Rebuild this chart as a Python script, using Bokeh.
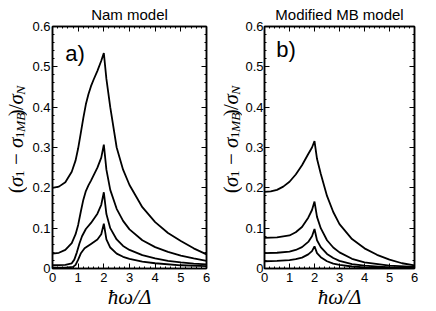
import numpy as np
from bokeh.plotting import figure
from bokeh.layouts import row
from bokeh.models import Label, LinearAxis, FixedTicker, Range1d
from bokeh.embed import file_html
from bokeh.resources import INLINE

# ---------------- data ----------------
# Panel a) Nam model
xa1 = [0, 0.25, 0.5, 0.75, 0.9, 1.0, 1.1, 1.2, 1.3, 1.4, 1.5, 1.6, 1.75, 1.9, 2.0, 2.1, 2.25, 2.5, 2.75, 3.0, 3.5, 4.0, 4.5, 5.0, 5.5, 6.0]
ya1 = [0.200, 0.203, 0.214, 0.240, 0.268, 0.298, 0.335, 0.373, 0.407, 0.432, 0.452, 0.468, 0.490, 0.515, 0.534, 0.470, 0.400, 0.300, 0.245, 0.207, 0.152, 0.115, 0.088, 0.068, 0.050, 0.035]
xa2 = [0, 0.25, 0.5, 0.75, 0.9, 1.0, 1.1, 1.2, 1.3, 1.4, 1.5, 1.75, 1.9, 2.0, 2.1, 2.25, 2.5, 2.75, 3.0, 3.5, 4.0, 4.5, 5.0, 5.5, 6.0]
ya2 = [0.037, 0.039, 0.046, 0.063, 0.085, 0.108, 0.140, 0.170, 0.192, 0.206, 0.218, 0.250, 0.275, 0.307, 0.245, 0.195, 0.148, 0.118, 0.097, 0.070, 0.053, 0.041, 0.032, 0.025, 0.019]
xa3 = [0, 0.5, 0.75, 0.85, 0.95, 1.05, 1.15, 1.3, 1.5, 1.75, 1.9, 2.0, 2.1, 2.25, 2.5, 2.75, 3.0, 3.5, 4.0, 4.5, 5.0, 5.5, 6.0]
ya3 = [0.008, 0.009, 0.013, 0.022, 0.040, 0.062, 0.080, 0.098, 0.113, 0.136, 0.158, 0.189, 0.135, 0.100, 0.072, 0.056, 0.046, 0.033, 0.025, 0.019, 0.015, 0.012, 0.010]
xa4 = [0, 0.5, 0.8, 0.9, 1.0, 1.1, 1.25, 1.5, 1.75, 1.9, 2.0, 2.1, 2.25, 2.5, 2.75, 3.0, 3.5, 4.0, 5.0, 6.0]
ya4 = [0.002, 0.002, 0.004, 0.009, 0.022, 0.037, 0.050, 0.061, 0.072, 0.085, 0.111, 0.072, 0.052, 0.037, 0.029, 0.024, 0.017, 0.013, 0.008, 0.006]

# Panel b) Modified MB model
xb1 = [0, 0.25, 0.5, 0.75, 1.0, 1.25, 1.5, 1.75, 1.9, 2.0, 2.1, 2.25, 2.5, 2.75, 3.0, 3.5, 4.0, 4.5, 5.0, 5.5, 6.0]
yb1 = [0.190, 0.191, 0.195, 0.203, 0.215, 0.233, 0.256, 0.284, 0.300, 0.316, 0.272, 0.235, 0.180, 0.140, 0.110, 0.073, 0.050, 0.034, 0.022, 0.013, 0.008]
xb = [0, 0.5, 1.0, 1.25, 1.5, 1.75, 1.9, 2.0, 2.1, 2.25, 2.5, 2.75, 3.0, 3.5, 4.0, 5.0, 6.0]
yb2 = [0.076, 0.077, 0.082, 0.090, 0.103, 0.126, 0.145, 0.166, 0.128, 0.100, 0.070, 0.052, 0.040, 0.024, 0.015, 0.007, 0.004]
yb3 = [0.038, 0.039, 0.042, 0.046, 0.053, 0.066, 0.080, 0.098, 0.070, 0.053, 0.036, 0.026, 0.019, 0.011, 0.007, 0.003, 0.002]
yb4 = [0.018, 0.019, 0.021, 0.023, 0.027, 0.035, 0.043, 0.055, 0.038, 0.028, 0.018, 0.012, 0.009, 0.005, 0.003, 0.002, 0.001]

titles = ["Nam model", "Modified MB model"]
panel_tags = ["a)", "b)"]
x_ticks = [0, 1, 2, 3, 4, 5, 6]
x_tick_labels = ["0", "1", "2", "3", "4", "5", "6"]
y_ticks = [0, 0.1, 0.2, 0.3, 0.4, 0.5, 0.6]
y_tick_labels = ["0", "0.1", "0.2", "0.3", "0.4", "0.5", "0.6"]
x_label = "ħω/Δ"
# y label pieces: text, subscript?, italic?
y_label_parts = [("(", False, False), ("σ", False, True), ("1", True, False),
                 ("−", False, False), ("σ", False, True), ("1", True, False),
                 ("MB", True, True), (")", False, False), ("/", False, False),
                 ("σ", False, True), ("N", True, True)]

# ---------------- style / layout ----------------
H = 311
TOP, BOTTOM = 25, 42
FRAME_H = H - TOP - BOTTOM
X0, X1, Y0, Y1 = 0, 6, 0, 0.6
SANS = "Liberation Sans"
SERIF = "Liberation Serif"
TICK_FS = "13px"
MAIN_FS, SUB_FS = 21, 13.5
EM = {"(": .333, ")": .333, "/": .278, "1": .5, "σ": .55, "−": .564, "MB": 1.444, "N": .667}
GAP = {"−": 9}

x_minor = [round(v, 2) for v in np.arange(0, 6.001, 0.2)]
y_minor = [round(v, 3) for v in np.arange(0, 0.6001, 0.02)]


def style_axis(ax, show_labels, standoff=3):
    ax.axis_line_color = "black"
    ax.axis_line_width = 1.5
    ax.major_tick_in = 5
    ax.major_tick_out = 0
    ax.minor_tick_in = 2
    ax.minor_tick_out = 0
    ax.major_tick_line_color = "black"
    ax.minor_tick_line_color = "black"
    if show_labels:
        ax.major_label_text_font = SANS
        ax.major_label_text_font_size = TICK_FS
        ax.major_label_text_color = "black"
        ax.major_label_standoff = standoff
    else:
        ax.major_label_text_font_size = "0px"
        ax.major_label_standoff = 0
        ax.major_label_text_alpha = 0


def make_panel(idx, series, width, border_left, border_right, ystandoff, tag_pos):
    p = figure(width=width, height=H, output_backend="svg", toolbar_location=None,
               x_range=Range1d(X0, X1), y_range=Range1d(Y0, Y1),
               min_border_left=border_left, min_border_right=border_right,
               min_border_top=TOP, min_border_bottom=BOTTOM,
               x_axis_type=None, y_axis_type=None)
    p.background_fill_color = "white"
    p.border_fill_color = "white"
    p.outline_line_color = "black"
    p.outline_line_width = 1.5
    p.xgrid.visible = False
    p.ygrid.visible = False

    p.title.text = titles[idx]
    p.title.align = "center"
    p.title.text_font = SANS
    p.title.text_font_size = "15px"
    p.title.text_font_style = "normal"
    p.title.text_color = "black"
    p.title.standoff = 7
    p.title.offset = 0

    xt = FixedTicker(ticks=x_ticks, minor_ticks=x_minor)
    yt = FixedTicker(ticks=y_ticks, minor_ticks=y_minor)
    xover = {t: l for t, l in zip(x_ticks, x_tick_labels)}
    yover = {t: l for t, l in zip(y_ticks, y_tick_labels)}

    xb_ax = LinearAxis(ticker=xt, major_label_overrides=xover)
    style_axis(xb_ax, True, 4)
    xb_ax.axis_label = x_label
    xb_ax.axis_label_text_font = SERIF
    xb_ax.axis_label_text_font_size = "21px"
    xb_ax.axis_label_text_font_style = "italic"
    xb_ax.axis_label_text_color = "black"
    xb_ax.axis_label_standoff = 0
    p.add_layout(xb_ax, "below")
    xa_ax = LinearAxis(ticker=xt, major_label_overrides=xover)
    style_axis(xa_ax, False)
    p.add_layout(xa_ax, "above")
    for loc, show in (("left", True), ("right", False)):
        ax = LinearAxis(ticker=yt, major_label_overrides=yover)
        style_axis(ax, show, ystandoff)
        p.add_layout(ax, loc)

    for xs, ys in series:
        p.line(xs, ys, line_color="black", line_width=1.8)

    p.add_layout(Label(x=tag_pos[0], y=tag_pos[1], text=panel_tags[idx],
                       text_font=SANS, text_font_size="22px", text_color="black",
                       text_baseline="alphabetic", text_align="left"))
    return p


def make_ylabel(width, main_base, sub_base):
    """Narrow strip carrying the rotated y-axis label (with subscripts)."""
    q = figure(width=width, height=H, output_backend="svg", toolbar_location=None,
               x_range=Range1d(0, width), y_range=Range1d(0, H),
               min_border=0, x_axis_type=None, y_axis_type=None)
    q.outline_line_color = None
    q.background_fill_color = "white"
    q.border_fill_color = "white"
    q.xgrid.visible = False
    q.ygrid.visible = False
    lens = []
    for t, sub, it in y_label_parts:
        fs = SUB_FS if sub else MAIN_FS
        w = EM.get(t, 0.6) * fs + (GAP.get(t, 0) if t == "−" else 0)
        lens.append((GAP.get(t, 1), w))
    total = sum(g + w for g, w in lens)
    center = H - (TOP + FRAME_H / 2)  # frame middle, measured from the bottom
    cum = 0.0
    for (t, sub, it), (g, w) in zip(y_label_parts, lens):
        cum += g
        q.add_layout(Label(x=sub_base if sub else main_base, y=center - total / 2 + cum, text=t,
                           angle=np.pi / 2, text_align="left", text_baseline="alphabetic",
                           text_font=SERIF, text_font_size=f"{SUB_FS if sub else MAIN_FS}px",
                           text_font_style="italic" if it else "normal", text_color="black"))
        cum += w
    return q


la = make_ylabel(27, 15.5, 19.5)
pa = make_panel(0, [(xa1, ya1), (xa2, ya2), (xa3, ya3), (xa4, ya4)], 189, 25, 10, 2, (0.5, 0.533))
lb = make_ylabel(26, 14.5, 18.5)
pb = make_panel(1, [(xb1, yb1), (xb, yb2), (xb, yb3), (xb, yb4)], 194, 20, 22, 1, (0.47, 0.543))

layout = row(la, pa, lb, pb)
open("out.html", "w").write(file_html(layout, INLINE))
